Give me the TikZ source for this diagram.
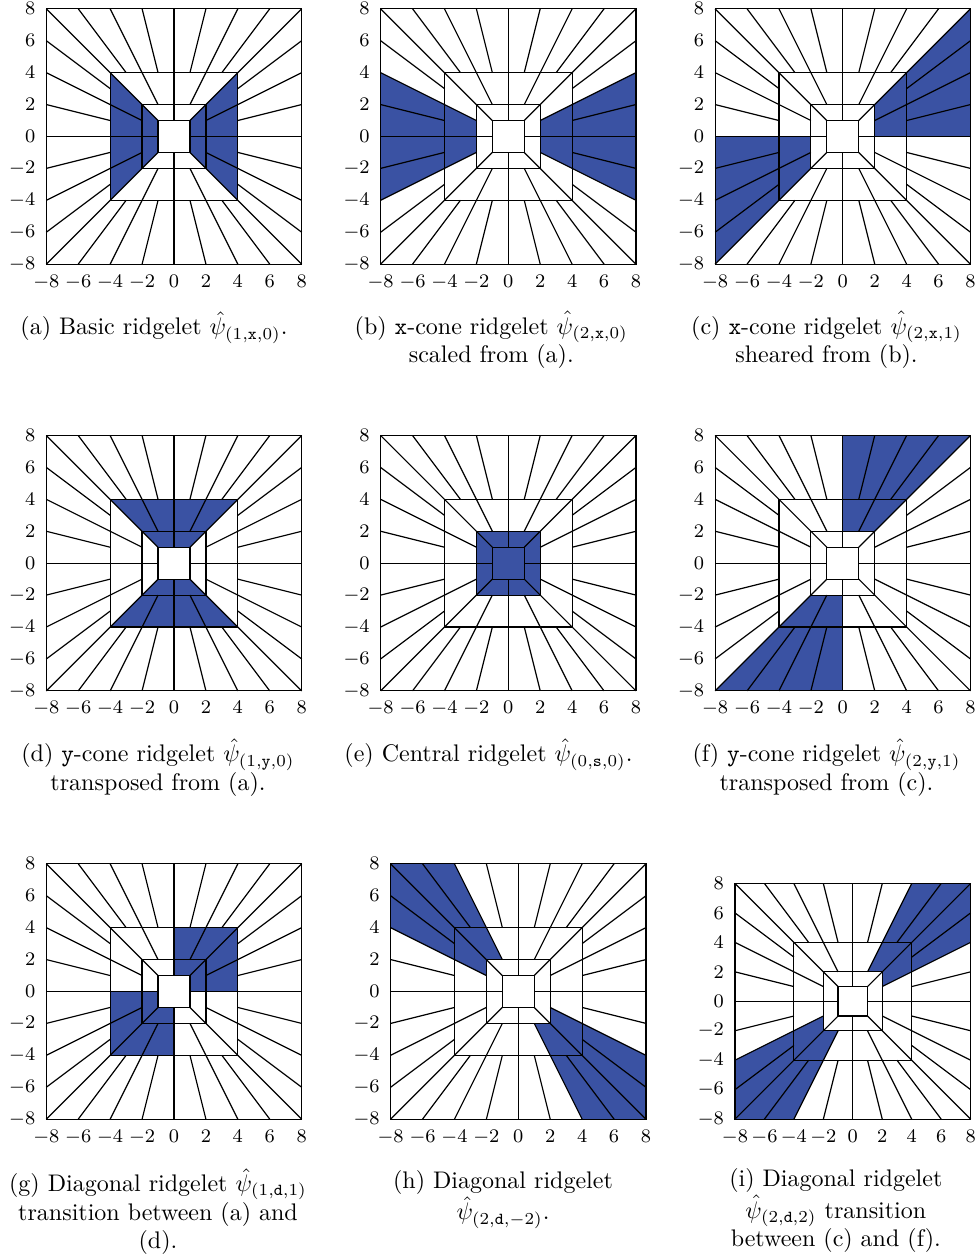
\documentclass[tikz,border=0pt]{standalone}
\usepackage{amsmath,amssymb}
\usepackage{tikz}
\usetikzlibrary{positioning}
\definecolor{ridgeblue}{RGB}{58,82,163}
\newcommand{\PsiHat}[1]{\hat{\psi}_{(#1)}}
% frequency tiling: squares and radial cuts
\newcommand{\RidgeTiles}{%
  \foreach \r in {0,90,180,270}{
    \begin{scope}[rotate=\r]
      \draw[tile] (1,0) -- (8,0);
      \draw[tile] (1,1) -- (8,8);
      \foreach \t in {-0.5,0.5}
        \draw[tile] (2,2*\t) -- (4,4*\t);
      \foreach \t in {-0.75,-0.5,-0.25,0.25,0.5,0.75}
        \draw[tile] (4,4*\t) -- (8,8*\t);
    \end{scope}
  }
  \foreach \s in {1,2,4,8}
    \draw[tile] (-\s,-\s) rectangle (\s,\s);
}
\newcommand{\RidgeTicks}[1]{%
  \foreach \v in {-8,-6,...,8}{
    \node[ytick] (#1y\v) at (-8,\v) {$\v$};
    \node[xtick] (#1x\v) at (\v,-8) {$\v$};
  }
}

\begin{document}
\begin{tikzpicture}[
  x=0.4167pt, y=0.4167pt,
  tile/.style={draw=black, line width=0.5pt},
  wedge/.style={fill=ridgeblue},
  ytick/.style={anchor=east, inner xsep=4.4pt, inner ysep=0pt, font=\footnotesize},
  xtick/.style={anchor=north, inner ysep=4.2pt, inner xsep=0pt, font=\footnotesize},
  caption/.style={anchor=base, align=center, inner sep=0pt}
]
\useasboundingbox (0,0) rectangle (974,1260);

% Row 1: basic and x-cone ridgelets
\begin{scope}[shift={(174,1123.5)}, scale=15.96]
  \fill[wedge] (1,1) -- (4,4) -- (4,-4) -- (1,-1) -- cycle;
  \fill[wedge] (-1,1) -- (-4,4) -- (-4,-4) -- (-1,-1) -- cycle;
  \RidgeTiles
  \RidgeTicks{a}
\end{scope}
\node[caption] (capa) at (154,925) {(a) Basic ridgelet $\PsiHat{1,\mathtt{x},0}$.};

\begin{scope}[shift={(508.3,1123.5)}, scale=15.96]
  \fill[wedge] (2,1) -- (8,4) -- (8,-4) -- (2,-1) -- cycle;
  \fill[wedge] (-2,1) -- (-8,4) -- (-8,-4) -- (-2,-1) -- cycle;
  \RidgeTiles
  \RidgeTicks{b}
\end{scope}
\node[caption] (capb) at (491.3,897)
  {(b) \texttt{x}-cone ridgelet $\PsiHat{2,\mathtt{x},0}$\\scaled from (a).};

\begin{scope}[shift={(842.8,1123.5)}, scale=15.96]
  \fill[wedge] (2,0) -- (2,2) -- (8,8) -- (8,0) -- cycle;
  \fill[wedge] (-2,0) -- (-2,-2) -- (-8,-8) -- (-8,0) -- cycle;
  \RidgeTiles
  \RidgeTicks{c}
\end{scope}
\node[caption] (capc) at (826.5,897)
  {(c) \texttt{x}-cone ridgelet $\PsiHat{2,\mathtt{x},1}$\\sheared from (b).};

% Row 2: y-cone and central ridgelets
\begin{scope}[shift={(174,696.8)}, scale=15.96]
  \fill[wedge] (1,1) -- (4,4) -- (-4,4) -- (-1,1) -- cycle;
  \fill[wedge] (1,-1) -- (4,-4) -- (-4,-4) -- (-1,-1) -- cycle;
  \RidgeTiles
  \RidgeTicks{d}
\end{scope}
\node[caption] (capd) at (158,469.5)
  {(d) \texttt{y}-cone ridgelet $\PsiHat{1,\mathtt{y},0}$\\transposed from (a).};

\begin{scope}[shift={(508.3,696.8)}, scale=15.96]
  \fill[wedge] (-2,-2) rectangle (2,2);
  \RidgeTiles
  \RidgeTicks{e}
\end{scope}
\node[caption] (cape) at (488.5,498) {(e) Central ridgelet $\PsiHat{0,\mathtt{s},0}$.};

\begin{scope}[shift={(842.8,696.8)}, scale=15.96]
  \fill[wedge] (0,2) -- (2,2) -- (8,8) -- (0,8) -- cycle;
  \fill[wedge] (0,-2) -- (-2,-2) -- (-8,-8) -- (0,-8) -- cycle;
  \RidgeTiles
  \RidgeTicks{f}
\end{scope}
\node[caption] (capf) at (826.5,469.5)
  {(f) \texttt{y}-cone ridgelet $\PsiHat{2,\mathtt{y},1}$\\transposed from (c).};

% Row 3: diagonal ridgelets
\begin{scope}[shift={(174,268.5)}, scale=15.96]
  \fill[wedge] (0,1) -- (0,4) -- (4,4) -- (4,0) -- (1,0) -- (1,1) -- cycle;
  \fill[wedge] (0,-1) -- (0,-4) -- (-4,-4) -- (-4,0) -- (-1,0) -- (-1,-1) -- cycle;
  \RidgeTiles
  \RidgeTicks{g}
\end{scope}
\node[caption] (capg) at (158,11)
  {(g) Diagonal ridgelet $\PsiHat{1,\mathtt{d},1}$\\transition between (a) and\\(d).};

\begin{scope}[shift={(518.3,268.5)}, scale=15.96]
  \fill[wedge] (-2,1) -- (-2,2) -- (-1,2) -- (-4,8) -- (-8,8) -- (-8,4) -- cycle;
  \fill[wedge] (2,-1) -- (2,-2) -- (1,-2) -- (4,-8) -- (8,-8) -- (8,-4) -- cycle;
  \RidgeTiles
  \RidgeTicks{h}
\end{scope}
\node[caption] (caph) at (503,40)
  {(h) Diagonal ridgelet\\$\PsiHat{2,\mathtt{d},-2}$.};

\begin{scope}[shift={(852.8,258.7)}, scale=14.73]
  \fill[wedge] (1,2) -- (2,2) -- (2,1) -- (8,4) -- (8,8) -- (4,8) -- cycle;
  \fill[wedge] (-1,-2) -- (-2,-2) -- (-2,-1) -- (-8,-4) -- (-8,-8) -- (-4,-8) -- cycle;
  \RidgeTiles
  \RidgeTicks{i}
\end{scope}
\node[caption] (capi) at (835.8,13)
  {(i) Diagonal ridgelet\\$\PsiHat{2,\mathtt{d},2}$ transition\\between (c) and (f).};
\end{tikzpicture}
\end{document}
